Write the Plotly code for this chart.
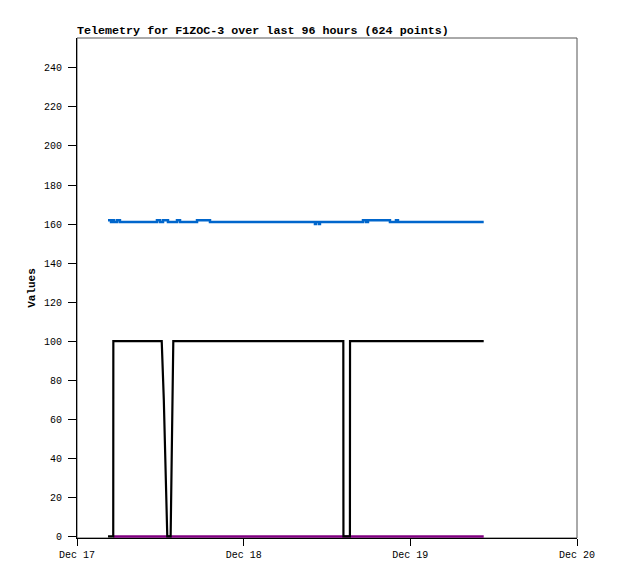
import plotly.graph_objects as go

# Black series breakpoints
black_times = ["2024-12-17 04:28", "2024-12-17 05:13", "2024-12-17 05:14", "2024-12-17 12:12",
               "2024-12-17 12:30", "2024-12-17 12:45", "2024-12-17 13:00", "2024-12-17 13:29",
               "2024-12-17 13:52", "2024-12-18 14:21", "2024-12-18 14:22", "2024-12-18 15:18",
               "2024-12-18 15:19", "2024-12-19 10:34"]
black_values = [0, 0, 100, 100, 70, 38, 0, 0, 100, 100, 0, 0, 100, 100]

# Blue series breakpoints (step)
blue_times = ["2024-12-17 04:28", "2024-12-17 04:54", "2024-12-17 05:11", "2024-12-17 05:20",
              "2024-12-17 05:46", "2024-12-17 06:11", "2024-12-17 11:31", "2024-12-17 11:57",
              "2024-12-17 12:23", "2024-12-17 13:06", "2024-12-17 14:24", "2024-12-17 14:50",
              "2024-12-17 17:17", "2024-12-17 19:09", "2024-12-18 10:16", "2024-12-18 10:25",
              "2024-12-18 10:51", "2024-12-18 10:59", "2024-12-18 17:11", "2024-12-18 17:37",
              "2024-12-18 17:54", "2024-12-18 21:04", "2024-12-18 21:56", "2024-12-18 22:13",
              "2024-12-19 10:34"]
blue_values = [162, 161, 162, 161, 162, 161, 162, 161, 162, 161, 162, 161, 162, 161,
               160, 161, 160, 161, 162, 161, 162, 161, 162, 161, 161]

# Purple series
purple_times = ["2024-12-17 05:14", "2024-12-19 10:34"]
purple_values = [0, 0]

x_ticks = ["2024-12-17", "2024-12-18", "2024-12-19", "2024-12-20"]
x_tick_labels = ["Dec 17", "Dec 18", "Dec 19", "Dec 20"]
y_ticks = list(range(0, 241, 20))

mono = "Liberation Mono, DejaVu Sans Mono, monospace"

W, H = 610, 571  # page body has an 8px margin

fig = go.Figure()
fig.add_trace(go.Scatter(x=blue_times, y=blue_values, mode="lines",
                         line=dict(color="#0066cc", width=2.5, shape="hv")))
fig.add_trace(go.Scatter(x=purple_times, y=purple_values, mode="lines",
                         line=dict(color="#800080", width=2.5)))
fig.add_trace(go.Scatter(x=black_times, y=black_values, mode="lines",
                         line=dict(color="#000000", width=2.2)))

fig.update_layout(
    width=W, height=H,
    margin=dict(l=69, r=41, t=30, b=41, autoexpand=False),
    paper_bgcolor="white", plot_bgcolor="white",
    showlegend=False,
    title=dict(text="<b>Telemetry for F1ZOC-3 over last 96 hours (624 points)</b>",
               x=69/W, xanchor="left", y=1-26/H, yanchor="bottom",
               font=dict(family=mono, size=11.7, color="black")),
    font=dict(family=mono, size=10, color="black"),
)
fig.update_xaxes(range=["2024-12-17", "2024-12-20"], tickvals=x_ticks, ticktext=x_tick_labels,
                 showgrid=False, zeroline=False, showline=True, linecolor="black", linewidth=1,
                 ticks="outside", ticklen=7, tickcolor="black", automargin=False,
                 tickfont=dict(size=10, family=mono))
fig.update_yaxes(range=[-0.8, 255.3], tickvals=y_ticks, showgrid=False, zeroline=False,
                 showline=True, linecolor="black", linewidth=1, automargin=False,
                 ticks="outside", ticklen=8, tickcolor="black", ticklabelstandoff=4,
                 tickfont=dict(size=10, family=mono),
                 title=dict(text="<b>Values</b>", font=dict(size=11, family=mono), standoff=6))
fig.add_shape(type="rect", xref="paper", yref="paper", x0=0, x1=1, y0=0, y1=1,
              line=dict(color="#555555", width=1), layer="below")
fig.write_html("out.html")
